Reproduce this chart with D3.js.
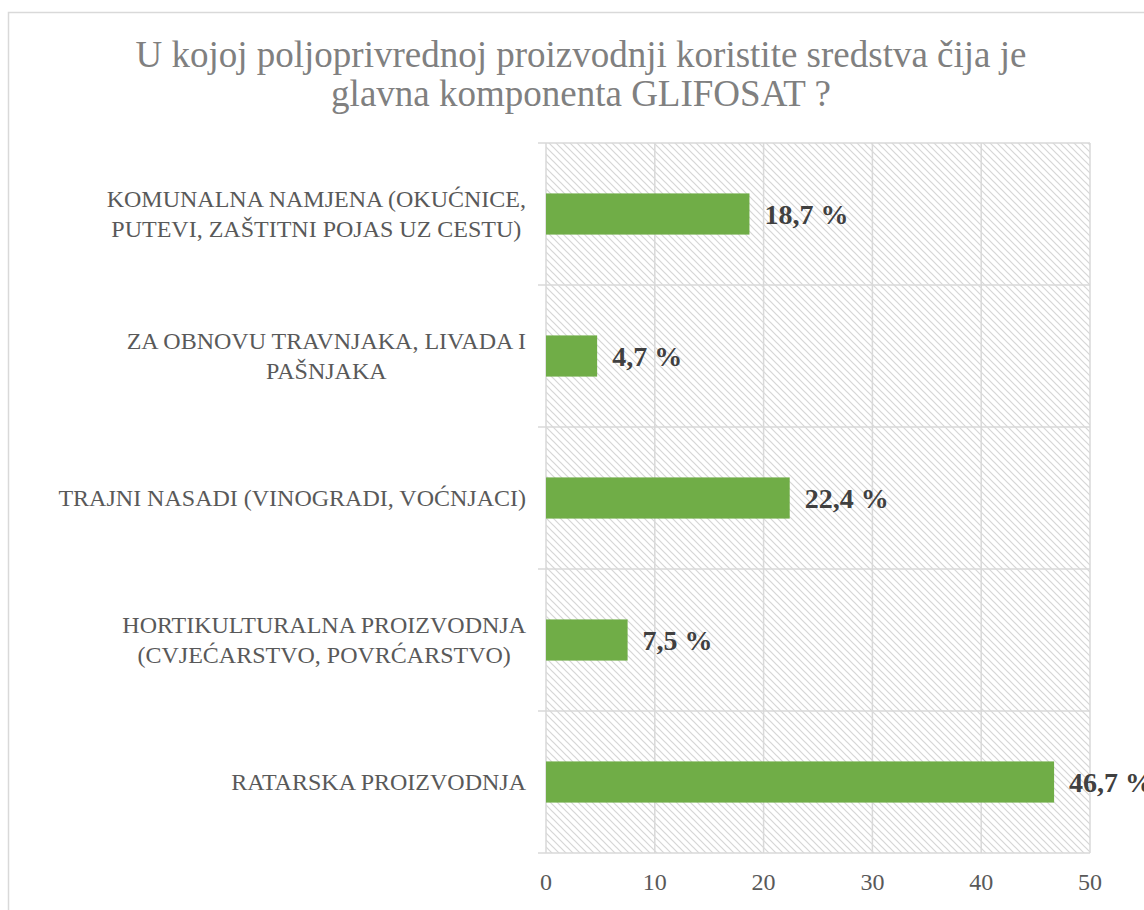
<!DOCTYPE html>
<html>
<head>
<meta charset="utf-8">
<script src="https://cdn.jsdelivr.net/npm/d3@7"></script>
<style>
  html, body { margin: 0; padding: 0; background: #ffffff; }
  svg { display: block; }
</style>
</head>
<body>
<script>
const titleLines = ["U kojoj poljoprivrednoj proizvodnji koristite sredstva čija je", "glavna komponenta GLIFOSAT ?"];
const categories = [
  ["KOMUNALNA NAMJENA (OKUĆNICE,", "PUTEVI, ZAŠTITNI POJAS UZ CESTU)"],
  ["ZA OBNOVU TRAVNJAKA, LIVADA I", "PAŠNJAKA"],
  ["TRAJNI NASADI (VINOGRADI, VOĆNJACI)"],
  ["HORTIKULTURALNA PROIZVODNJA", "(CVJEĆARSTVO, POVRĆARSTVO)"],
  ["RATARSKA PROIZVODNJA"]
];
const values = [18.7, 4.7, 22.4, 7.5, 46.7];
const valueLabels = ["18,7 %", "4,7 %", "22,4 %", "7,5 %", "46,7 %"];
const xTicks = [0, 10, 20, 30, 40, 50];

(function () {
const W = 1144, H = 910;
const serif = "Liberation Serif, Times New Roman, serif";
const svg = d3.select("body").append("svg").attr("width", W).attr("height", H);

// outer chart border (extends beyond the visible area)
svg.append("rect").attr("x", 8.5).attr("y", 12.5).attr("width", W + 20).attr("height", H + 20)
  .attr("fill", "#fff").attr("stroke", "#d9d9d9").attr("stroke-width", 1.5);

// hatch pattern
const defs = svg.append("defs");
const pat = defs.append("pattern").attr("id", "hatch").attr("patternUnits", "userSpaceOnUse")
  .attr("width", 7).attr("height", 7);
pat.append("rect").attr("width", 7).attr("height", 7).attr("fill", "#ffffff");
pat.append("path").attr("d", "M-1,-1 L8,8 M-8,-1 L1,8 M6,-1 L15,8")
  .attr("stroke", "#d6d6d6").attr("stroke-width", 1.2);

const pLeft = 546, pRight = 1090, pTop = 143, pBottom = 853;
const x = d3.scaleLinear().domain([0, 50]).range([pLeft, pRight]);
const y = d3.scaleBand().domain(d3.range(categories.length)).range([pTop, pBottom])
  .paddingInner(0.71).paddingOuter(0.355);
const step = y.step();

// plot background
svg.append("rect").attr("x", pLeft).attr("y", pTop).attr("width", pRight - pLeft).attr("height", pBottom - pTop)
  .attr("fill", "url(#hatch)");

// vertical gridlines
svg.append("g").selectAll("line").data(xTicks).join("line")
  .attr("x1", d => x(d)).attr("x2", d => x(d)).attr("y1", pTop).attr("y2", pBottom)
  .attr("stroke", "#d9d9d9").attr("stroke-width", 1.5);

// horizontal band boundaries (with ticks extending left)
const bounds = d3.range(categories.length + 1).map(i => pTop + i * step);
svg.append("g").selectAll("line").data(bounds).join("line")
  .attr("x1", pLeft - 8).attr("x2", pRight).attr("y1", d => d).attr("y2", d => d)
  .attr("stroke", "#d9d9d9").attr("stroke-width", 1.5);

// bars
svg.append("g").selectAll("rect").data(values).join("rect")
  .attr("x", x(0)).attr("y", (d, i) => y(i))
  .attr("width", d => x(d) - x(0)).attr("height", y.bandwidth())
  .attr("fill", "#70ad47");

// value labels
svg.append("g").selectAll("text").data(values).join("text")
  .attr("x", d => x(d) + 15).attr("y", (d, i) => y(i) + y.bandwidth() / 2 + 10)
  .style("font-family", serif).style("font-weight", "bold").style("font-size", "28px")
  .attr("fill", "#404040")
  .text((d, i) => valueLabels[i]);

// x tick labels
svg.append("g").selectAll("text").data(xTicks).join("text")
  .attr("x", d => x(d)).attr("y", 890).attr("text-anchor", "middle")
  .style("font-family", serif).style("font-size", "24px").attr("fill", "#595959")
  .text(d => d);

// category labels
const catG = svg.append("g");
categories.forEach((lines, i) => {
  const cy = y(i) + y.bandwidth() / 2;
  const g = catG.append("g");
  const texts = lines.map((ln, j) => g.append("text")
    .style("font-family", serif).style("font-size", "24px").attr("fill", "#595959")
    .attr("text-anchor", "middle")
    .attr("y", cy + (j - (lines.length - 1) / 2) * 30 + 8)
    .text(ln));
  const wMax = d3.max(texts, t => t.node().getComputedTextLength());
  const cx = 526 - wMax / 2;
  texts.forEach(t => t.attr("x", cx));
});

// title
svg.append("g").selectAll("text").data(titleLines).join("text")
  .attr("x", 581).attr("y", (d, i) => 67 + i * 39).attr("text-anchor", "middle")
  .style("font-family", serif).style("font-size", "37px").attr("fill", "#808080")
  .text(d => d);
})();
</script>
</body>
</html>
